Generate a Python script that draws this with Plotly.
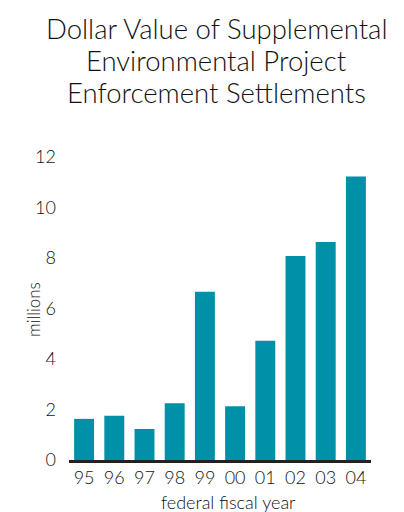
import plotly.graph_objects as go

years = ["95", "96", "97", "98", "99", "00", "01", "02", "03", "04"]
values = [1.63, 1.75, 1.23, 2.25, 6.67, 2.13, 4.72, 8.08, 8.64, 11.23]
y_ticks = [0, 2, 4, 6, 8, 10, 12]
title_lines = ["Dollar Value of Supplemental", "Environmental Project", "Enforcement Settlements"]

FONT = "Lato"
TXT = "#111111"

PLOT_BOTTOM, PLOT_H, PLOT_L, PLOT_W = 460, 313, 69, 302

fig = go.Figure(go.Bar(x=years, y=values, marker=dict(color="#0090a7", line=dict(width=0)),
                       width=0.66))

annotations = []
for i, line in enumerate(title_lines):
    py = 28 + 32 * i
    annotations.append(dict(
        text=line, xref="paper", yref="paper",
        x=(216 - PLOT_L) / PLOT_W, y=(PLOT_BOTTOM - py) / PLOT_H,
        xanchor="center", yanchor="middle", showarrow=False,
        font=dict(family=FONT, size=27.5, color=TXT, weight=300),
    ))
annotations.append(dict(
    text="millions", xref="paper", yref="paper",
    x=(33 - PLOT_L) / PLOT_W, y=(PLOT_BOTTOM - 310) / PLOT_H,
    xanchor="center", yanchor="middle", textangle=-90, showarrow=False,
    font=dict(family=FONT, size=17, color=TXT, weight=300),
))
annotations.append(dict(
    text="federal fiscal year", xref="paper", yref="paper",
    x=(228 - PLOT_L) / PLOT_W, y=(PLOT_BOTTOM - 502) / PLOT_H,
    xanchor="center", yanchor="middle", showarrow=False,
    font=dict(family=FONT, size=18, color=TXT, weight=300),
))

fig.update_layout(
    width=404, height=512,
    margin=dict(l=69, r=33, t=147, b=52),
    paper_bgcolor="white", plot_bgcolor="white",
    showlegend=False,
    font=dict(family=FONT, color=TXT),
    annotations=annotations,
)
fig.update_xaxes(
    type="category", range=[-0.5, 9.5], automargin=False,
    showline=True, linecolor="#222222", linewidth=2.5,
    ticks="", tickfont=dict(family=FONT, size=18, color=TXT, weight=300),
    showgrid=False,
)
fig.update_yaxes(
    range=[0, 12.4], tickvals=y_ticks, showgrid=False, zeroline=False, showline=False,
    ticks="", ticklabelstandoff=12, automargin=False,
    tickfont=dict(family=FONT, size=18, color=TXT, weight=300),
)

fig.write_html("out.html")
